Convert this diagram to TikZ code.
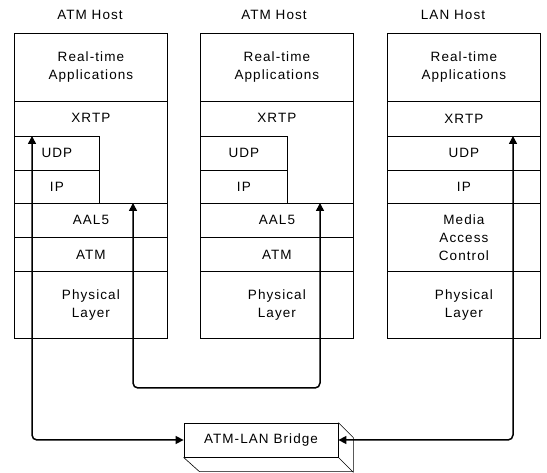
\documentclass[tikz,border=0pt]{standalone}
\usepackage{fontspec}
\setmainfont{Liberation Sans}[LetterSpace=8]
\usetikzlibrary{arrows.meta,calc}

\tikzset{
  layer/.style={draw, line width=0.8pt, inner sep=0pt, minimum width=153pt,
                anchor=north west, align=center, fill=white},
  title/.style={inner sep=0pt},
  conn/.style={line width=1.5pt, rounded corners=5pt,
               {Triangle[length=8pt,width=8pt]}-{Triangle[length=8pt,width=8pt]}},
  depth/.style={line width=0.6pt},
}

\begin{document}
\begin{tikzpicture}[x=1pt, y=-1pt, font=\fontsize{13.5}{18}\selectfont]
\useasboundingbox (0,0) rectangle (547,473);

% host titles
\node[title] (tiA) at (90,15)  {ATM Host};
\node[title] (tiB) at (274,15) {ATM Host};
\node[title] (tiC) at (453,15) {LAN Host};

% ---- first ATM host ----
\node[layer, minimum height=68pt] (rtA) at (14,33) {Real-time\\Applications};
\node[layer, minimum height=102pt] (xrA) at (14,101) {};
\node (xrAt) at ($(xrA.north)+(0,17)$) {XRTP};
\node[layer, minimum width=85pt, minimum height=34pt] (udpA) at (14,136) {UDP};
\node[layer, minimum width=85pt, minimum height=33pt] (ipA) at (14,170) {IP};
\node[layer, minimum height=34pt] (aalA) at (14,203) {AAL5};
\node[layer, minimum height=34pt] (atmA) at (14,237) {ATM};
\node[layer, minimum height=67pt] (phA) at (14,271) {Physical\\Layer};

% ---- second ATM host ----
\node[layer, minimum height=68pt] (rtB) at (200,33) {Real-time\\Applications};
\node[layer, minimum height=102pt] (xrB) at (200,101) {};
\node (xrBt) at ($(xrB.north)+(0,17)$) {XRTP};
\node[layer, minimum width=87pt, minimum height=34pt] (udpB) at (200,136) {UDP};
\node[layer, minimum width=87pt, minimum height=33pt] (ipB) at (200,170) {IP};
\node[layer, minimum height=34pt] (aalB) at (200,203) {AAL5};
\node[layer, minimum height=34pt] (atmB) at (200,237) {ATM};
\node[layer, minimum height=67pt] (phB) at (200,271) {Physical\\Layer};

% ---- LAN host ----
\node[layer, minimum height=68pt] (rtC) at (387,33) {Real-time\\Applications};
\node[layer, minimum height=35pt] (xrC) at (387,101) {XRTP};
\node[layer, minimum height=34pt] (udpC) at (387,136) {UDP};
\node[layer, minimum height=33pt] (ipC) at (387,170) {IP};
\node[layer, minimum height=68pt] (macC) at (387,203) {Media\\Access\\Control};
\node[layer, minimum height=67pt] (phC) at (387,271) {Physical\\Layer};

% ---- bridge, drawn as a box with depth ----
\node[draw, line width=0.8pt, minimum width=154pt, minimum height=34pt, inner sep=0pt]
  (br) at (261,440) {ATM-LAN Bridge};
\draw[depth] (br.north east) -- ++(15,15) -- ++(0,34) -- ++(-154,0) -- (br.south west);
\draw[depth] (br.south east) -- ++(15,15);

% ---- connector end points ----
\coordinate (tA1) at ($(udpA.north west)+(18,0)$);
\coordinate (tA2) at ($(aalA.north west)+(119,0)$);
\coordinate (tB2) at ($(aalB.north west)+(120,0)$);
\coordinate (tC)  at ($(udpC.north west)+(126,0)$);
\coordinate (lp)  at (226,388);

% ---- data paths ----
\draw[conn] (tA1) |- (br.west);
\draw[conn] (tA2) |- (lp) -| (tB2);
\draw[conn] (tC) |- (br.east);
\end{tikzpicture}
\end{document}
